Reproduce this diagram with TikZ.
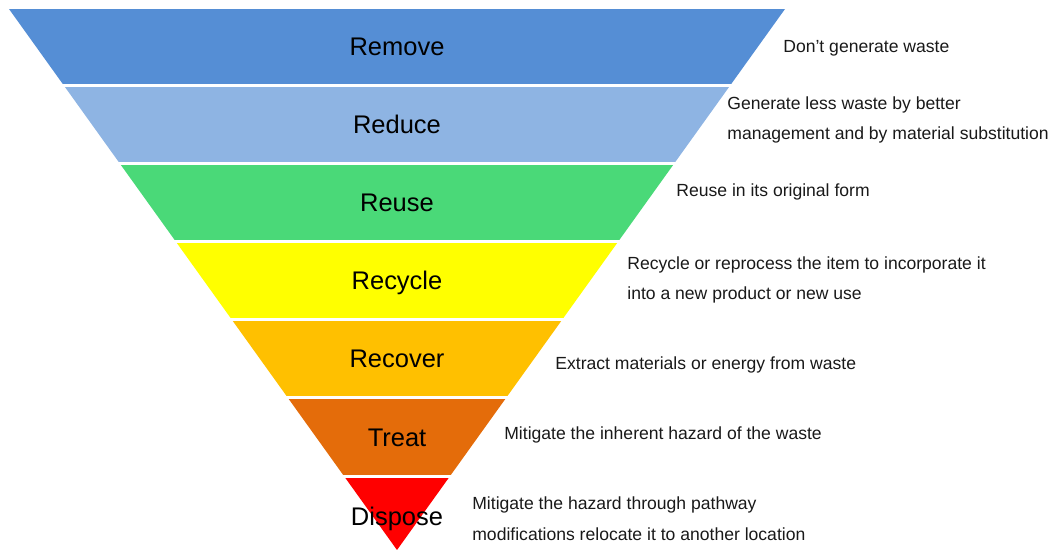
\documentclass[tikz,border=0pt]{standalone}
\usepackage{fontspec}
\setmainfont{Liberation Sans}

\definecolor{removeblue}{RGB}{85,142,213}
\definecolor{reduceblue}{RGB}{142,180,227}
\definecolor{reusegreen}{RGB}{74,217,120}
\definecolor{recycleyellow}{RGB}{255,255,0}
\definecolor{recoveramber}{RGB}{255,192,0}
\definecolor{treatorange}{RGB}{228,108,10}
\definecolor{disposered}{RGB}{255,0,0}
\definecolor{notegray}{RGB}{25,25,25}

\begin{document}
\begin{tikzpicture}[x=0.02cm,y=-0.02cm,line cap=round,line join=round,
    band label/.style={inner sep=0pt,text height=0.72em,text depth=0.21em,
      font=\fontsize{14.5}{16}\selectfont},
    note/.style={anchor=west,inner sep=0pt,align=left,text=notegray,
      font=\fontsize{10}{17.5}\selectfont}]
    \useasboundingbox (0,0) rectangle (1053,550);

    % inverted pyramid, cut into bands with thin white gaps
    \begin{scope}
      \clip (9,9) -- (785,9) -- (397,550) -- cycle;
      \fill[removeblue]    (0,9)   rectangle (1053,84);
      \fill[reduceblue]    (0,87)  rectangle (1053,162);
      \fill[reusegreen]    (0,165) rectangle (1053,240);
      \fill[recycleyellow] (0,243) rectangle (1053,318);
      \fill[recoveramber]  (0,321) rectangle (1053,396);
      \fill[treatorange]   (0,399) rectangle (1053,475);
      \fill[disposered]    (0,478) rectangle (1053,551);
    \end{scope}

    % band names
    \node[band label] (remove)  at (397,51)  {Remove};
    \node[band label] (reduce)  at (397,129) {Reduce};
    \node[band label] (reuse)   at (397,207) {Reuse};
    \node[band label] (recycle) at (397,285) {Recycle};
    \node[band label] (recover) at (397,363) {Recover};
    \node[band label] (treat)   at (397,442) {Treat};
    \node[band label] (dispose) at (397,521) {Dispose};

    % notes on the right of each band
    \node[note] (remove note)  at (783,48)  {Don't generate waste};
    \node[note] (reduce note)  at (727,120) {Generate less waste by better\\management and by material substitution};
    \node[note] (reuse note)   at (676,192) {Reuse in its original form};
    \node[note] (recycle note) at (627,280) {Recycle or reprocess the item to incorporate it\\into a new product or new use};
    \node[note] (recover note) at (555,365) {Extract materials or energy from waste};
    \node[note] (treat note)   at (504,435) {Mitigate the inherent hazard of the waste};
    \node[note] (dispose note) at (472,519) {Mitigate the hazard through pathway\\modifications relocate it to another location};
  \end{tikzpicture}
\end{document}
